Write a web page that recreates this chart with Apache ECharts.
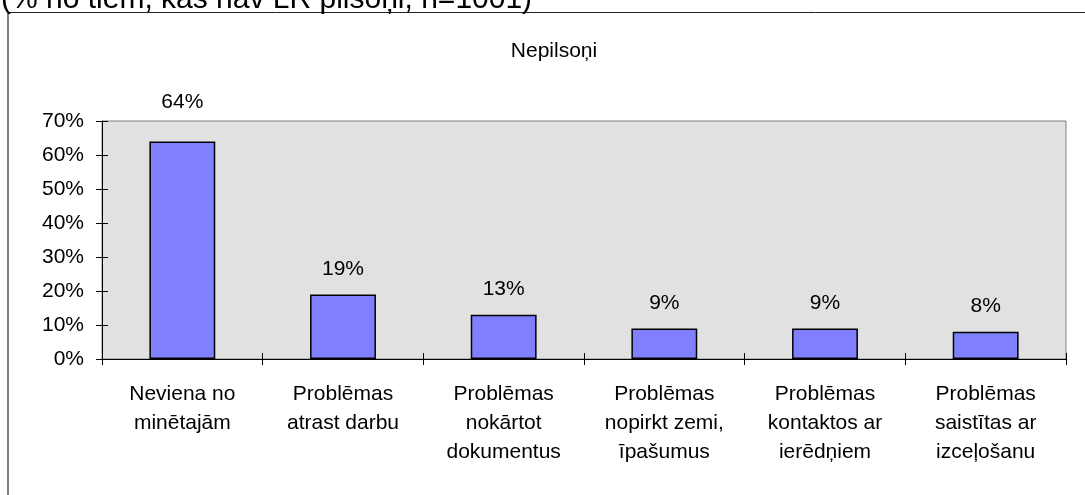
<!DOCTYPE html>
<html>
<head>
<meta charset="utf-8">
<script src="https://cdn.jsdelivr.net/npm/echarts@6/dist/echarts.min.js"></script>
<style>
  html, body { margin: 0; padding: 0; background: #fff; }
  #chart { width: 1085px; height: 495px; }
</style>
</head>
<body>
<div id="chart"></div>
<script>
// Nepilsoņu problēmas (% no tiem, kas nav LR pilsoņi)
var categories = [
  'Neviena no\nminētajām',
  'Problēmas\natrast darbu',
  'Problēmas\nnokārtot\ndokumentus',
  'Problēmas\nnopirkt zemi,\nīpašumus',
  'Problēmas\nkontaktos ar\nierēdņiem',
  'Problēmas\nsaistītas ar\nizceļošanu'
];
var values = [64, 19, 13, 9, 9, 8];
var yTicks = [0, 10, 20, 30, 40, 50, 60, 70];

var topNote = '(% no tiem, kas nav LR pilsoņi, n=1001)';
var chartTitle = 'Nepilsoņi';

var FONT = '"Liberation Sans", Arial, sans-serif';

var chart = echarts.init(document.getElementById('chart'), null, { renderer: 'canvas' });

// pirmajam stabiņam Excel uzraksts ir augstāk (virs zīmēšanas laukuma)
var barData = values.map(function (v, i) {
  if (i === 0) return { value: v, label: { distance: 29 } };
  return v;
});

var option = {
  animation: false,
  backgroundColor: '#ffffff',
  textStyle: { fontFamily: FONT },
  graphic: [
    { type: 'line', shape: { x1: 7, y1: 12.5, x2: 1085, y2: 12.5 }, style: { stroke: '#222', lineWidth: 1 } },
    { type: 'line', shape: { x1: 8, y1: 12, x2: 8, y2: 495 }, style: { stroke: '#808080', lineWidth: 2 } },
    { type: 'text', left: 1, top: -15, style: { text: topNote, font: '30px ' + FONT, fill: '#000' } },
    { type: 'text', x: 554, y: 41, style: { text: chartTitle, font: '21px ' + FONT, fill: '#000', align: 'center' } }
  ],
  grid: { left: 102, right: 19, top: 121, bottom: 136, show: true, backgroundColor: '#e1e1e1', borderColor: '#808080', borderWidth: 1 },
  xAxis: [
    {
      type: 'category', data: categories,
      axisLine: { lineStyle: { color: '#000', width: 1 } },
      axisTick: { show: true, length: 6, lineStyle: { color: '#000' } },
      axisLabel: { color: '#000', fontSize: 21, lineHeight: 29, margin: 21, fontFamily: FONT, interval: 0 }
    },
    {
      type: 'category', data: categories, position: 'bottom',
      axisLine: { show: false },
      axisTick: { show: true, inside: true, length: 6, lineStyle: { color: '#000' } },
      axisLabel: { show: false }
    }
  ],
  yAxis: [
    {
      type: 'value', min: yTicks[0], max: yTicks[yTicks.length - 1], interval: 10,
      axisLine: { show: true, lineStyle: { color: '#000', width: 1 } },
      axisTick: { show: true, length: 6, lineStyle: { color: '#000' } },
      splitLine: { show: false },
      axisLabel: { color: '#000', fontSize: 21, margin: 18, fontFamily: FONT, formatter: '{value}%' }
    },
    {
      type: 'value', min: yTicks[0], max: yTicks[yTicks.length - 1], interval: 10, position: 'left',
      axisLine: { show: false },
      axisTick: { show: true, inside: true, length: 6, lineStyle: { color: '#000' } },
      splitLine: { show: false },
      axisLabel: { show: false }
    }
  ],
  series: [{
    type: 'bar',
    data: barData,
    barCategoryGap: '59%',
    itemStyle: { color: '#8080ff', borderColor: '#000', borderWidth: 1.5 },
    label: {
      show: true, position: 'top', distance: 15,
      formatter: '{c}%', color: '#000', fontSize: 21, fontFamily: FONT
    }
  }]
};

chart.setOption(option);
</script>
</body>
</html>
